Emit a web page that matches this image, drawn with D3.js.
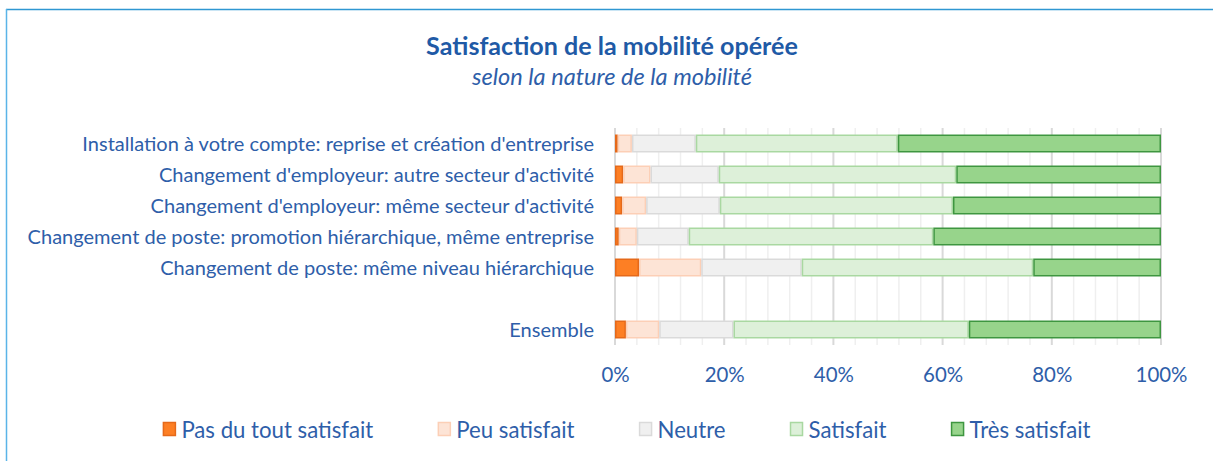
<!DOCTYPE html>
<html>
<head>
<meta charset="utf-8">
<script src="https://cdn.jsdelivr.net/npm/d3@7"></script>
<style>
  body { margin: 0; background: #fff; }
  text { font-family: Lato, "Open Sans", sans-serif; }
</style>
</head>
<body>
<div id="chart"></div>
<script>
// categories (bottom row "Ensemble" is separated by an empty slot)
const categories = [
  "Installation à votre compte: reprise et création d'entreprise",
  "Changement d'employeur: autre secteur d'activité",
  "Changement d'employeur: même secteur d'activité",
  "Changement de poste: promotion hiérarchique, même entreprise",
  "Changement de poste: même niveau hiérarchique",
  "Ensemble"
];
const seriesNames = ["Pas du tout satisfait", "Peu satisfait", "Neutre", "Satisfait", "Très satisfait"];

// percentages
const pasDuTout  = [0.5, 1.5, 1.3, 0.7, 4.4, 2.0];
const peu        = [2.6, 5.0, 4.4, 3.3, 11.4, 6.1];
const neutre     = [11.7, 12.5, 13.5, 9.5, 18.4, 13.6];
const satisfait  = [37.0, 43.5, 42.7, 44.8, 42.4, 43.1];
const tresSatisf = [48.2, 37.5, 38.1, 41.7, 23.4, 35.2];

const xTicks = [0, 20, 40, 60, 80, 100];

const fills   = ["#fd7f24", "#fde4d6", "#f0f0f0", "#ddf0d9", "#97d48b"];
const strokes = ["#e5691a", "#fccfb6", "#dadada", "#a9d8a1", "#3e9640"];
const blue = "#2e5ea9";

const W = 1213, H = 461;

// scale a text's font size so that its width matches the target
function fit(sel, target) {
    const node = sel.node();
    const fs = parseFloat(sel.attr('font-size'));
    const w = node.getComputedTextLength();
    return fs * target / w;
}

const svg = d3.select('#chart')
    .append('svg')
    .attr('width', W)
    .attr('height', H);

// frame lines (top + left)
svg.append('line')
    .attr('x1', 6).attr('x2', W).attr('y1', 9.5).attr('y2', 9.5)
    .attr('stroke', '#2f97d2').attr('stroke-width', 1.5);
svg.append('line')
    .attr('x1', 6.5).attr('x2', 6.5).attr('y1', 9).attr('y2', H)
    .attr('stroke', '#5ab4e8').attr('stroke-width', 1.5);

// titles
const title = svg.append('text')
    .attr('x', 612).attr('y', 55)
    .attr('text-anchor', 'middle')
    .attr('font-family', '"Open Sans", sans-serif')
    .attr('font-size', 20)
    .attr('font-weight', 'bold')
    .attr('fill', '#1f5aa6')
    .text('Satisfaction de la mobilité opérée');
title.attr('font-size', fit(title, 372));

const subtitle = svg.append('text')
    .attr('x', 612).attr('y', 85)
    .attr('text-anchor', 'middle')
    .attr('font-family', '"Open Sans", sans-serif')
    .attr('font-size', 18)
    .attr('font-style', 'italic')
    .attr('fill', blue)
    .text('selon la nature de la mobilité');
subtitle.attr('font-size', fit(subtitle, 280));

// table rows
const rows = categories.map((c, i) => ({
    cat: c,
    "Pas du tout satisfait": pasDuTout[i],
    "Peu satisfait": peu[i],
    "Neutre": neutre[i],
    "Satisfait": satisfait[i],
    "Très satisfait": tresSatisf[i]
}));

const yDomain = categories.slice(0, 5).concat([""], categories.slice(5));

const x = d3.scaleLinear().domain([0, 100]).range([615, 1161]);
const y = d3.scaleBand()
    .domain(yDomain)
    .range([128, 345])
    .paddingInner(0.42)
    .paddingOuter(0.21);

// gridlines every 4%
const grid = d3.range(0, 101, 4);
svg.append('g')
    .selectAll('line')
    .data(grid)
    .enter()
    .append('line')
    .attr('x1', d => x(d)).attr('x2', d => x(d))
    .attr('y1', 128).attr('y2', 345)
    .attr('stroke', d => (d % 20 === 0) ? '#d9d9d9' : '#efefef')
    .attr('stroke-width', d => (d % 20 === 0) ? 2 : 1.5);

// stacked bars
const stack = d3.stack().keys(seriesNames);
const layers = stack(rows);

svg.append('g')
    .selectAll('g')
    .data(layers)
    .enter()
    .append('g')
    .attr('fill', (d, i) => fills[i])
    .attr('stroke', (d, i) => strokes[i])
    .attr('stroke-width', 1.5)
    .selectAll('rect')
    .data(d => d)
    .enter()
    .append('rect')
    .attr('x', d => x(d[0]) + 0.75)
    .attr('y', d => y(d.data.cat) + 0.75)
    .attr('width', d => Math.max(0, x(d[1]) - x(d[0]) - 1.5))
    .attr('height', y.bandwidth() - 1.5);

// category labels
const labels = svg.append('g')
    .selectAll('text')
    .data(categories)
    .enter()
    .append('text')
    .attr('x', 594)
    .attr('y', d => y(d) + y.bandwidth() / 2 - 1)
    .attr('text-anchor', 'end')
    .attr('dominant-baseline', 'central')
    .attr('font-size', 18)
    .attr('fill', blue)
    .text(d => d);
const labelSize = fit(labels.filter((d, i) => i === 3), 567);
labels.attr('font-size', labelSize);

// x axis labels
const xAxis = svg.append('g')
    .attr('transform', 'translate(0,356)')
    .call(d3.axisBottom(x).tickValues(xTicks).tickFormat(d => d + '%').tickSize(0));
xAxis.select('.domain').remove();
xAxis.selectAll('text')
    .attr('font-size', 20)
    .attr('font-family', 'Lato, sans-serif')
    .attr('fill', blue)
    .attr('dy', '1.1em');
const tickSize = fit(xAxis.selectAll('text').filter(d => d === 100), 52);
xAxis.selectAll('text').attr('font-size', tickSize);

// legend
const legend = svg.append('g');
const items = legend.selectAll('g')
    .data(seriesNames)
    .enter()
    .append('g');
items.append('rect')
    .attr('width', 12).attr('height', 13)
    .attr('y', -6.5)
    .attr('fill', (d, i) => fills[i])
    .attr('stroke', (d, i) => strokes[i])
    .attr('stroke-width', 1.5);
const legendText = items.append('text')
    .attr('x', 18)
    .attr('dominant-baseline', 'central')
    .attr('font-size', 20)
    .attr('fill', blue)
    .text(d => d);
legendText.attr('font-size', fit(legendText.filter((d, i) => i === 0), 192));

let cursor = 0;
const offsets = [];
items.each(function () {
    offsets.push(cursor);
    cursor += this.getBBox().width + 65;
});
const total = cursor - 65;
const start = 627 - total / 2;
items.attr('transform', (d, i) => `translate(${start + offsets[i]},429)`);
</script>
</body>
</html>
